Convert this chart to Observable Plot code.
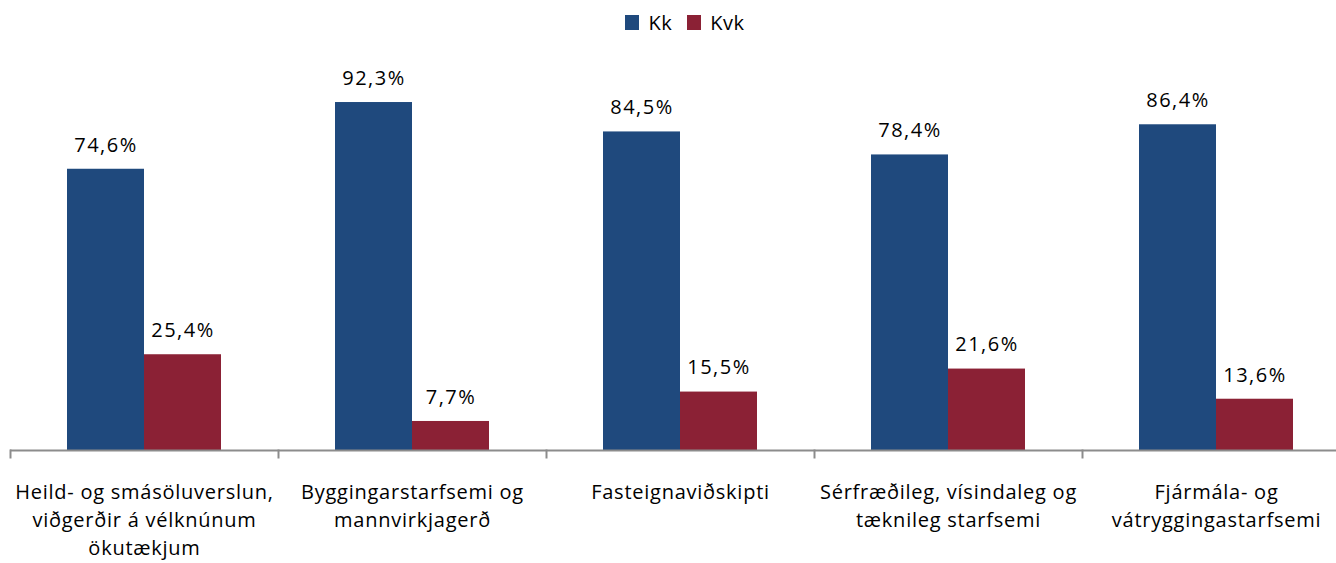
<!DOCTYPE html>
<html>
<head>
<meta charset="utf-8">
<script src="https://cdn.jsdelivr.net/npm/d3@7"></script>
<script src="https://cdn.jsdelivr.net/npm/@observablehq/plot@0.6"></script>
<style>
  html, body { margin: 0; padding: 0; background: #fff; }
  body { width: 1336px; height: 563px; overflow: hidden; font-family: "Open Sans", Lato, sans-serif; }
  #legend { height: 44px; display: flex; justify-content: center; align-items: center; gap: 15px; font-size: 20px; color: #000; padding-left: 34px; box-sizing: border-box; letter-spacing: 0.5px; }
  #legend .item { display: flex; align-items: center; gap: 9px; }
  #legend .sw { width: 14px; height: 15px; display: inline-block; }
  #chart svg text { letter-spacing: 0.75px; }
  #chart svg g.vals text { letter-spacing: 1.5px; }
</style>
</head>
<body>
<div id="legend"></div>
<div id="chart"></div>
<script>
const categories = [
  "Heild- og smásöluverslun,\nviðgerðir á vélknúnum\nökutækjum",
  "Byggingarstarfsemi og\nmannvirkjagerð",
  "Fasteignaviðskipti",
  "Sérfræðileg, vísindaleg og\ntæknileg starfsemi",
  "Fjármála- og\nvátryggingastarfsemi"
];
const seriesNames = ["Kk", "Kvk"];
const kkValues = [74.6, 92.3, 84.5, 78.4, 86.4];
const kvkValues = [25.4, 7.7, 15.5, 21.6, 13.6];
const seriesColors = ["#1F497D", "#8B2135"];

const data = [];
categories.forEach((c, i) => {
  data.push({category: c, series: "Kk", value: kkValues[i]});
  data.push({category: c, series: "Kvk", value: kvkValues[i]});
});

const fmt = v => v.toFixed(1).replace(".", ",") + "%";

// legend
const legend = document.getElementById("legend");
seriesNames.forEach((s, i) => {
  const item = document.createElement("span");
  item.className = "item";
  const sw = document.createElement("span");
  sw.className = "sw";
  sw.style.background = seriesColors[i];
  const t = document.createElement("span");
  t.textContent = s;
  item.appendChild(sw);
  item.appendChild(t);
  legend.appendChild(item);
});

const chart = Plot.plot({
  width: 1336,
  height: 519,
  marginLeft: 10,
  marginRight: -14,
  marginTop: 29,
  marginBottom: 113,
  style: {fontFamily: "'Open Sans', Lato, sans-serif", fontSize: "20px", color: "#000", background: "#fff"},
  fx: {domain: categories, padding: 0, label: null},
  x: {domain: seriesNames, paddingInner: 0, paddingOuter: 0.729, axis: null},
  y: {domain: [0, 100], axis: null},
  color: {domain: seriesNames, range: seriesColors},
  marks: [
    Plot.barY(data, {fx: "category", x: "series", y: "value", fill: "series"}),
    Plot.text(data, {fx: "category", x: "series", y: "value", text: d => fmt(d.value), dy: -24, fontSize: 20, fill: "#000", lineAnchor: "middle", className: "vals"}),
    Plot.ruleY([0], {stroke: "#8c8c8c", strokeWidth: 2}),
    Plot.frame({anchor: "left", stroke: "#8c8c8c", strokeWidth: 2, insetTop: 377, insetBottom: -7}),
    Plot.axisFx({anchor: "bottom", tickSize: 0, tickPadding: 29, fontSize: 20, lineHeight: 1.4, label: null, fill: "#000"})
  ]
});
document.getElementById("chart").appendChild(chart);
</script>
</body>
</html>
